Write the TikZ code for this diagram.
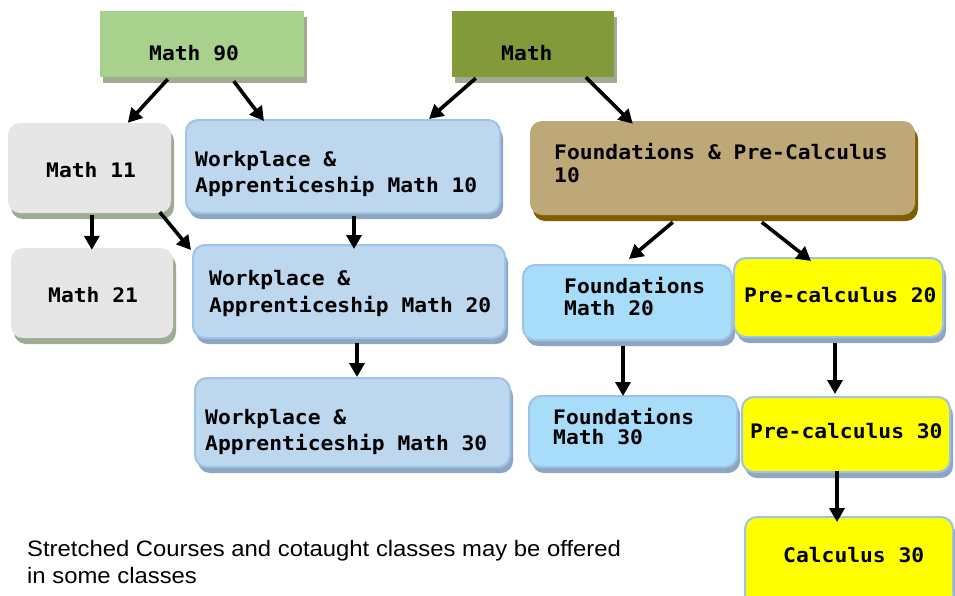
\documentclass[tikz,border=0pt]{standalone}
\usepackage{fontspec}
\setmainfont{Liberation Sans}
\newfontfamily\monob[FakeStretch=1.065]{DejaVu Sans Mono}
\newfontfamily\notefont[FakeStretch=1.07]{Liberation Sans}
\usetikzlibrary{arrows.meta,shadows}
\definecolor{grn}{HTML}{A9D18E}
\definecolor{olv}{HTML}{839A3B}
\definecolor{gshad}{HTML}{A0AB94}
\definecolor{gry}{HTML}{E6E6E6}
\definecolor{blu}{HTML}{BDD7EE}
\definecolor{bbord}{HTML}{9DC3E6}
\definecolor{bshad}{HTML}{8EA6C2}
\definecolor{tan}{HTML}{BFA878}
\definecolor{tshad}{HTML}{7F6000}
\definecolor{lblu}{HTML}{A8DDF9}
\definecolor{ylw}{HTML}{FFFF00}
\tikzset{
  shad/.style={drop shadow={shadow xshift=3pt,shadow yshift=-6pt,fill=#1,opacity=1}},
  box/.style={draw=none,inner sep=0pt,rectangle},
  greenbox/.style={box,fill=grn,shad=gshad},
  olivebox/.style={box,fill=olv,shad=gshad},
  graybox/.style={box,fill=gry,rounded corners=12pt,shad=gshad},
  bluebox/.style={box,fill=blu,draw=bbord,line width=2pt,rounded corners=12pt,shad=bshad},
  tanbox/.style={box,fill=tan,rounded corners=12pt,shad=tshad},
  lbluebox/.style={box,fill=lblu,draw=bbord,line width=2pt,rounded corners=12pt,shad=bshad},
  yelbox/.style={box,fill=ylw,draw=bbord,line width=2pt,rounded corners=12pt,shad=bshad},
  txt/.style={anchor=base west,inner sep=0pt,align=left,font=\monob\bfseries\fontsize{20}{#1}\selectfont},
  txt/.default=26,
  arr/.style={line width=3.6pt,-{Triangle[length=14pt,width=15pt]}},
  note/.style={anchor=base west,inner sep=0pt,align=left,font=\notefont\fontsize{22.3}{27}\selectfont}
}
\begin{document}
\begin{tikzpicture}[x=1pt,y=-1pt]
\useasboundingbox[fill=white] (0,0) rectangle (955,595);
% boxes
\node[greenbox,minimum width=204pt,minimum height=66pt] (m90) at (202,44) {};
\node[olivebox,minimum width=162pt,minimum height=66pt] (math) at (533,44) {};
\node[graybox,minimum width=163pt,minimum height=90pt] (m11) at (89.5,168) {};
\node[bluebox,minimum width=314pt,minimum height=93pt] (wp10) at (343,166.5) {};
\node[tanbox,minimum width=385pt,minimum height=94pt] (fpc10) at (722.5,168) {};
\node[graybox,minimum width=162pt,minimum height=90pt] (m21) at (92,293) {};
\node[bluebox,minimum width=312pt,minimum height=93pt] (wp20) at (349,291.5) {};
\node[bluebox,minimum width=315pt,minimum height=89pt] (wp30) at (352.5,422.5) {};
\node[lbluebox,minimum width=209pt,minimum height=75pt] (f20) at (627.5,302.5) {};
\node[yelbox,minimum width=209pt,minimum height=79pt] (p20) at (838.5,297.5) {};
\node[lbluebox,minimum width=208pt,minimum height=71pt] (f30) at (633,431.5) {};
\node[yelbox,minimum width=208pt,minimum height=75pt] (p30) at (846,434.5) {};
\node[yelbox,minimum width=208pt,minimum height=90pt] (c30) at (849,562) {};
% texts (base = last line)
\node[txt] (m90t) at (149,60) {Math 90};
\node[txt] (matht) at (501,60) {Math};
\node[txt] (m11t) at (46,177) {Math 11};
\node[txt=26] (wp10t) at (195,192) {Workplace \&\\Apprenticeship Math 10};
\node[txt=23] (fpc10t) at (554,182) {Foundations \& Pre-Calculus\\10};
\node[txt] (m21t) at (48,302) {Math 21};
\node[txt=27] (wp20t) at (209,312) {Workplace \&\\Apprenticeship Math 20};
\node[txt=26] (wp30t) at (205,450) {Workplace \&\\Apprenticeship Math 30};
\node[txt=22] (f20t) at (564,315) {Foundations\\Math 20};
\node[txt] (p20t) at (744,302) {Pre-calculus 20};
\node[txt=20] (f30t) at (553,444) {Foundations\\Math 30};
\node[txt] (p30t) at (750,438) {Pre-calculus 30};
\node[txt] (c30t) at (783,562) {Calculus 30};
\node[note] (nt) at (27,583) {Stretched Courses and cotaught classes may be offered\\in some classes};
% arrows
\draw[arr] ([shift={(68,2)}]m90.south west) -- ([shift={(120,0)}]m11.north west);
\draw[arr] ([shift={(134,4)}]m90.south west) -- ([shift={(79,2)}]wp10.north west);
\draw[arr] ([shift={(24,1)}]math.south west) -- ([shift={(244,0)}]wp10.north west);
\draw[arr] ([shift={(134,0)}]math.south west) -- ([shift={(103,3)}]fpc10.north west);
\draw[arr] ([shift={(84,2)}]m11.south west) -- ([shift={(81,2)}]m21.north west);
\draw[arr] ([shift={(152,-1)}]m11.south west) -- ([shift={(-1,6)}]wp20.north west);
\draw[arr] ([shift={(169,2)}]wp10.south west) -- ([shift={(162,5)}]wp20.north west);
\draw[arr] ([shift={(165,4)}]wp20.south west) -- ([shift={(163,0)}]wp30.north west);
\draw[arr] ([shift={(143,7)}]fpc10.south west) -- ([shift={(107,-5)}]f20.north west);
\draw[arr] ([shift={(232,7)}]fpc10.south west) -- ([shift={(78,4)}]p20.north west);
\draw[arr] ([shift={(101,5)}]f20.south west) -- ([shift={(95,1)}]f30.north west);
\draw[arr] ([shift={(102,5)}]p20.south west) -- ([shift={(94,-2)}]p30.north west);
\draw[arr] ([shift={(96,-2)}]p30.south west) -- ([shift={(93,6)}]c30.north west);
\end{tikzpicture}
\end{document}
